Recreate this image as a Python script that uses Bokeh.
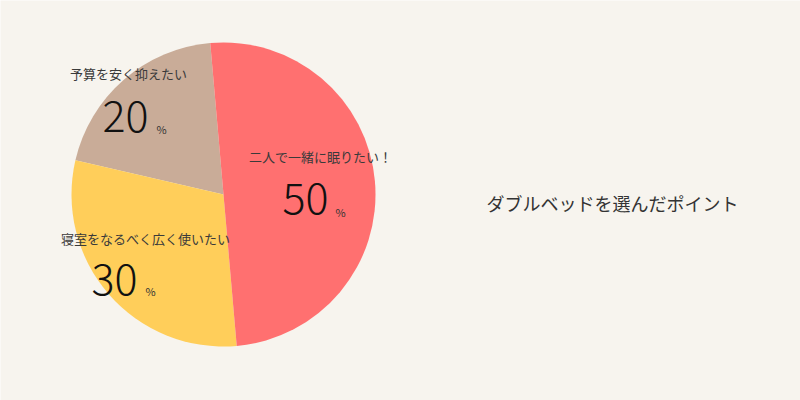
import math
from bokeh.plotting import figure
from bokeh.models import Range1d, ColumnDataSource
from bokeh.core.properties import value
from bokeh.embed import file_html
from bokeh.resources import INLINE

# ---- data ----
categories = ["予算を安く抑えたい", "寝室をなるべく広く使いたい", "二人で一緒に眠りたい！"]
values = [20, 30, 50]
colors = ["#C9AC98", "#FFCE5A", "#FF7070"]
title_text = "ダブルベッドを選んだポイント"
pct_suffix = "%"

# ---- layout (pixel coords of the page) ----
W, H = 800, 400
BG = "#F7F4EE"
cx, cy, r = 223, 194, 152
start_deg = 95.0
label_pos = [(128, 73), (145, 238), (320, 156)]      # category label centres
num_pos = [(102, 116), (91, 279), (282, 198)]         # number left / vertical centre
pct_pos = [(156, 128), (145, 290), (335, 211)]        # percent sign left / centre

def Y(py):
    return H - py

p = figure(width=W, height=H, output_backend="svg", toolbar_location=None,
           x_range=Range1d(0, W), y_range=Range1d(0, H),
           min_border=0, background_fill_color=BG, border_fill_color=BG,
           outline_line_color=None)
p.axis.visible = False
p.grid.visible = False

total = sum(values)
starts, ends = [], []
acc = math.radians(start_deg)
for v in values:
    a = 2 * math.pi * v / total
    starts.append(acc)
    ends.append(acc + a)
    acc += a

src = ColumnDataSource(dict(start=starts, end=ends, color=colors))
p.wedge(x=cx, y=Y(cy), radius=r, start_angle="start", end_angle="end",
        fill_color="color", line_color=None, source=src)

font = value("Noto Sans CJK JP")
lsrc = ColumnDataSource(dict(x=[q[0] for q in label_pos], y=[Y(q[1]) for q in label_pos],
                             t=categories))
p.text(x="x", y="y", text="t", source=lsrc, text_font=font, text_font_size="13px",
       text_color="#3a3a3a", text_align="center", text_baseline="middle")

nums = [str(v) for v in values]
nsrc = ColumnDataSource(dict(x=[q[0] for q in num_pos], y=[Y(q[1]) for q in num_pos], t=nums))
p.text(x="x", y="y", text="t", source=nsrc,
       text_font=value("Noto Sans CJK JP Light, Noto Sans CJK JP"),
       text_font_size="43px", text_color="#111111", text_align="left",
       text_baseline="middle")

psrc = ColumnDataSource(dict(x=[q[0] for q in pct_pos], y=[Y(q[1]) for q in pct_pos],
                             t=[pct_suffix] * len(values)))
p.text(x="x", y="y", text="t", source=psrc, text_font=font, text_font_size="11px",
       text_color="#333333", text_align="left", text_baseline="middle")

p.text(x=[612], y=[Y(202)], text=[title_text], text_font=font, text_font_size="18px",
       text_color="#333333", text_align="center", text_baseline="middle")

open("out.html", "w").write(file_html(p, INLINE))
